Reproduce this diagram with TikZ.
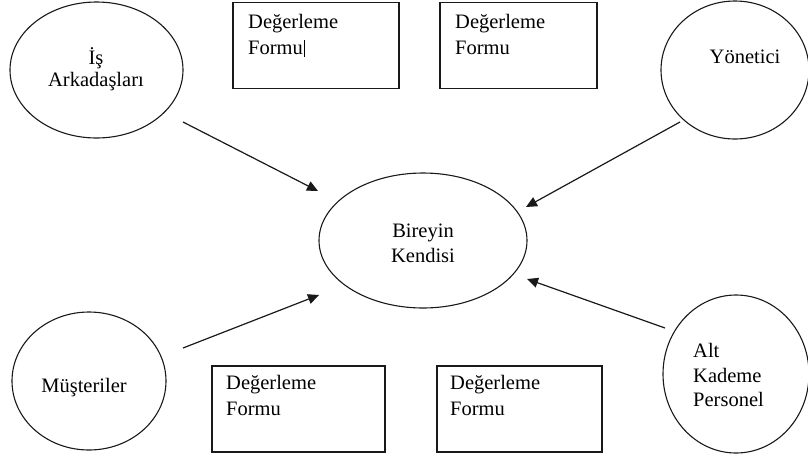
\documentclass[tikz,border=0pt]{standalone}
\usepackage{fontspec}
\setmainfont{Liberation Serif}
\usetikzlibrary{shapes.geometric,arrows.meta}
\begin{document}
\begin{tikzpicture}[x=1pt,y=-1pt,
 ell/.style={ellipse, draw=black!90, line width=1.1pt, inner sep=0pt},
 formbox/.style={draw=black!90, line width=1.7pt, inner sep=0pt, anchor=north west},
 lbl/.style={inner sep=0pt, text=black, font=\fontsize{20.5}{24}\selectfont},
 arr/.style={-{Triangle[length=11pt,width=10pt]}, line width=1.2pt, draw=black!90}]
\useasboundingbox (0,0) rectangle (808,456);
% ellipses
\node[ell, minimum width=173, minimum height=136] (ik) at (96.5,70) {};
\node[ell, minimum width=148, minimum height=138] (yo) at (735,70) {};
\node[ell, minimum width=208, minimum height=135] (bk) at (423,240.5) {};
\node[ell, minimum width=154, minimum height=138] (mu) at (89,381) {};
\node[ell, minimum width=146, minimum height=158] (ak) at (736,374) {};
% boxes
\node[formbox, minimum width=166, minimum height=86] (f1) at (232,1.5) {};
\node[formbox, minimum width=157, minimum height=86] (f2) at (439,1.5) {};
\node[formbox, minimum width=173, minimum height=86] (f3) at (211,365) {};
\node[formbox, minimum width=165, minimum height=86] (f4) at (436,365) {};
% texts
\node[lbl, anchor=base] (ik1) at (96,64) {İş};
\node[lbl, anchor=base] (ik2) at (96,86) {Arkadaşları};
\node[lbl, anchor=base] (yo1) at (745,63) {Yönetici};
\node[lbl, anchor=base] (bk1) at (423,237) {Bireyin};
\node[lbl, anchor=base] (bk2) at (423,262) {Kendisi};
\node[lbl, anchor=base] (mu1) at (84,392) {Müşteriler};
\node[lbl, anchor=base west] (ak1) at (693,357) {Alt};
\node[lbl, anchor=base west] (ak2) at (693,382) {Kademe};
\node[lbl, anchor=base west] (ak3) at (693,406) {Personel};
\node[lbl, anchor=base west] (f1a) at (248,28) {Değerleme};
\node[lbl, anchor=base west] (f1b) at (248,54) {Formu};
\node[lbl, anchor=base west] (f2a) at (455,28) {Değerleme};
\node[lbl, anchor=base west] (f2b) at (455,54) {Formu};
\node[lbl, anchor=base west] (f3a) at (226,389) {Değerleme};
\node[lbl, anchor=base west] (f3b) at (226,415) {Formu};
\node[lbl, anchor=base west] (f4a) at (450,389) {Değerleme};
\node[lbl, anchor=base west] (f4b) at (450,415) {Formu};
% text cursor after first "Formu"
\coordinate (cur1) at (304,40);
\coordinate (cur2) at (304,57);
\draw[line width=0.9pt] (cur1) -- (cur2);
% arrows
\coordinate (a1s) at (183,122); \coordinate (a1e) at (318,191);
\coordinate (a2s) at (680,122); \coordinate (a2e) at (526,207);
\coordinate (a3s) at (183,348); \coordinate (a3e) at (319,295);
\coordinate (a4s) at (665,328); \coordinate (a4e) at (527,279);
\draw[arr] (a1s) -- (a1e);
\draw[arr] (a2s) -- (a2e);
\draw[arr] (a3s) -- (a3e);
\draw[arr] (a4s) -- (a4e);
\end{tikzpicture}
\end{document}
